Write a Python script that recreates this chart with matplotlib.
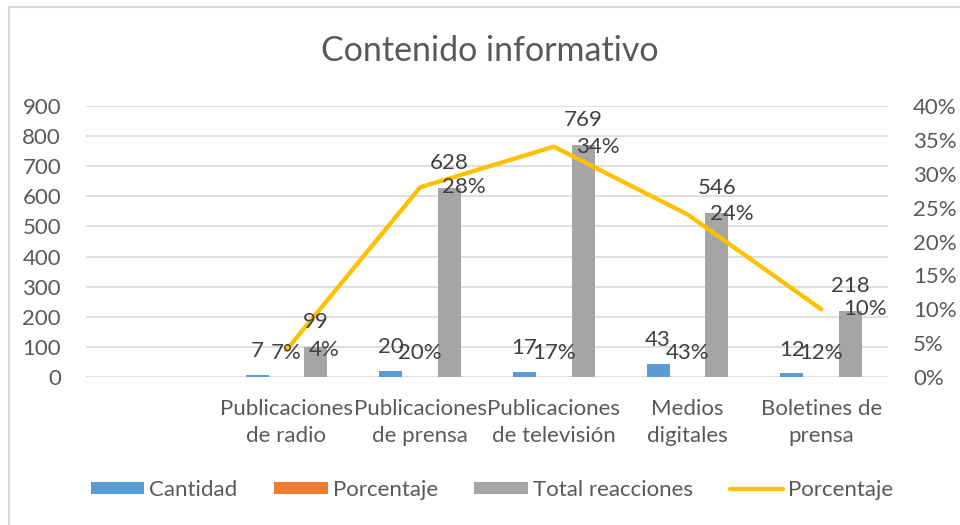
import matplotlib
matplotlib.use("Agg")
import matplotlib.pyplot as plt
import numpy as np
from matplotlib.ticker import FuncFormatter, MultipleLocator
from matplotlib.lines import Line2D

plt.rcParams['font.family'] = ['Lato', 'DejaVu Sans']

categories = ["", "Publicaciones\nde radio", "Publicaciones\nde prensa",
              "Publicaciones\nde televisión", "Medios\ndigitales", "Boletines de\nprensa"]
cantidad = [None, 7, 20, 17, 43, 12]
porcentaje_bar = [None, 0.07, 0.20, 0.17, 0.43, 0.12]
total_reacciones = [None, 99, 628, 769, 546, 218]
porcentaje_line = [None, 0.04, 0.28, 0.34, 0.24, 0.10]

C_BLUE = "#5B9BD5"
C_ORANGE = "#ED7D31"
C_GRAY = "#A5A5A5"
C_LINE = "#FFC000"
TXT = "#595959"
LBL = "#404040"
GRID = "#D9D9D9"
FS = 16

W, H = 960, 525
fig = plt.figure(figsize=(W / 100, H / 100), dpi=100)
ax = fig.add_axes([86 / W, 1 - 377 / H, (888 - 86) / W, (377 - 106) / H])
ax2 = ax.twinx()

x = np.arange(len(categories))
bw = 0.172
off = 0.22

def vals(arr):
    return [np.nan if v is None else v for v in arr]

b1 = ax.bar(x - off, vals(cantidad), bw, color=C_BLUE, zorder=3, label="Cantidad")
b2 = ax.bar(x, vals(porcentaje_bar), bw, color=C_ORANGE, zorder=3, label="Porcentaje")
b3 = ax.bar(x + off, vals(total_reacciones), bw, color=C_GRAY, zorder=3, label="Total reacciones")

ax.set_xlim(-0.5, len(categories) - 0.5)
ax.set_ylim(0, 900)
ax.yaxis.set_major_locator(MultipleLocator(100))
ax.grid(axis='y', color=GRID, linewidth=1.2, zorder=0)
ax.set_axisbelow(True)
for s in ax.spines.values():
    s.set_visible(False)
for s in ax2.spines.values():
    s.set_visible(False)
ax.set_xticks(x)
ax.set_xticklabels(categories, linespacing=1.45)
ax.tick_params(axis='x', length=0, pad=16, labelsize=FS, colors=TXT)
ax.tick_params(axis='y', length=0, pad=18, labelsize=FS, colors=TXT)

lx = [xi for xi, v in zip(x, porcentaje_line) if v is not None]
ly = [v for v in porcentaje_line if v is not None]
ax2.plot(lx, ly, color=C_LINE, linewidth=3.1, zorder=5, solid_capstyle='round')
ax2.set_ylim(0, 0.40)
ax2.yaxis.set_major_locator(MultipleLocator(0.05))
ax2.yaxis.set_major_formatter(FuncFormatter(lambda v, p: f"{v*100:.0f}%"))
ax2.tick_params(axis='y', length=0, pad=18, labelsize=FS, colors=TXT)

# data labels (drawn on top axes so they sit above bars and line)
for xi, v in zip(x, cantidad):
    if v is None:
        continue
    ax2.annotate(f"{v}", (xi - off, v), xytext=(0, 17), textcoords='offset points',
                 xycoords=ax.transData,
                 ha='center', va='center', fontsize=FS, color=LBL, zorder=6)
for xi, v in zip(x, porcentaje_bar):
    if v is None:
        continue
    ax2.annotate(f"{v*100:.0f}%", (xi, v), xytext=(0, 17), textcoords='offset points',
                 xycoords=ax.transData,
                 ha='center', va='center', fontsize=FS, color=LBL, zorder=6)
for xi, v in zip(x, total_reacciones):
    if v is None:
        continue
    ax2.annotate(f"{v}", (xi + off, v), xytext=(0, 18), textcoords='offset points',
                 xycoords=ax.transData,
                 ha='center', va='center', fontsize=FS, color=LBL, zorder=6)
for xi, v in zip(lx, ly):
    ax2.annotate(f"{v*100:.0f}%", (xi, v), xytext=(16, 0), textcoords='offset points',
                 ha='left', va='center', fontsize=FS, color=LBL, zorder=6)

fig.text(490 / W, 1 - 51 / H, "Contenido informativo", ha='center', va='center',
         fontsize=24.5, color=TXT)

handles = [b1, b2, b3, Line2D([0], [0], color=C_LINE, linewidth=3.1, solid_capstyle='round')]
labels = ["Cantidad", "Porcentaje", "Total reacciones", "Porcentaje"]
leg = fig.legend(handles, labels, loc='center', bbox_to_anchor=(492 / W, 1 - 490 / H),
                 ncol=4, frameon=False, fontsize=FS, handlelength=2.4, handleheight=0.45,
                 handletextpad=0.23, columnspacing=1.65, labelcolor=TXT)

# chart border
fig.add_artist(plt.Line2D([9 / W, 9 / W], [0, 1 - 7 / H], transform=fig.transFigure,
                          color=GRID, linewidth=1.5))
fig.add_artist(plt.Line2D([9 / W, 1], [1 - 7 / H, 1 - 7 / H], transform=fig.transFigure,
                          color=GRID, linewidth=1.5))

fig.savefig("out.png", dpi=100, facecolor='white')
